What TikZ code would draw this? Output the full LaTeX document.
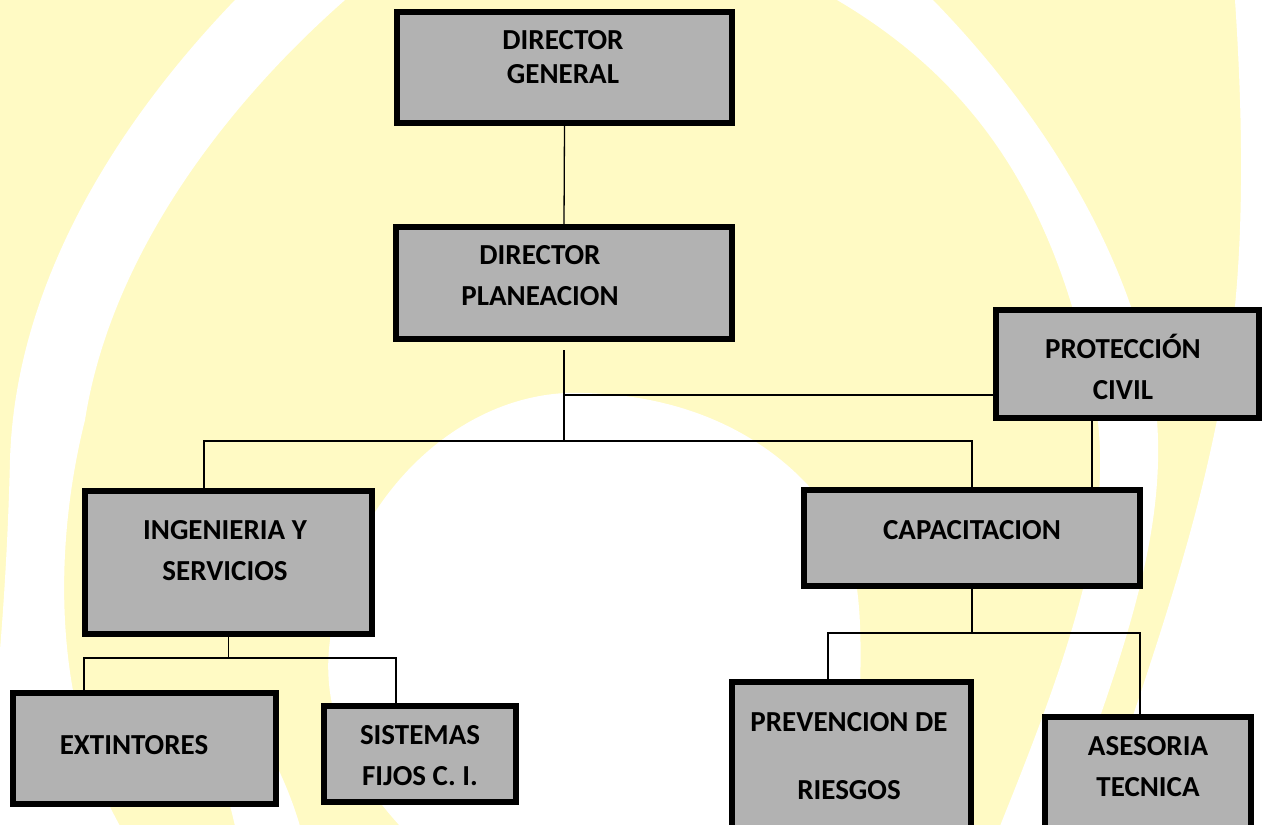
\documentclass[tikz,border=0pt]{standalone}
\usepackage{fontspec}
\setmainfont{Carlito}
\definecolor{paleyellow}{RGB}{255,250,196}
\definecolor{boxgray}{RGB}{178,178,178}
\tikzset{
  unitbox/.style={draw=black, fill=boxgray, line width=6pt, inner sep=0pt},
  unittext/.style={align=center, inner sep=0pt, font=\bfseries\fontsize{29}{41}\selectfont},
  link/.style={draw=black, line width=1.3pt}
}
\begin{document}
\begin{tikzpicture}[x=1pt,y=-1pt]
    \useasboundingbox (0,0) rectangle (1262,825);
    \clip (0,0) rectangle (1262,825);

    % background swirl
    \fill[paleyellow] (0,0) rectangle (1262,825);
    \fill[white] (235,0) .. controls (110,130) and (15,290) .. (10,460) .. controls (8,540) and (4,600) .. (0,650) -- (0,826) -- (120,826) .. controls (50,700) and (55,540) .. (85,420) .. controls (110,260) and (220,110) .. (345,0) -- cycle;
    \fill[white] (235,826) .. controls (220,760) and (200,720) .. (170,690) -- (230,690) .. controls (260,730) and (285,775) .. (300,826) -- cycle;
    \fill[white] (400,826) .. controls (340,760) and (322,700) .. (330,640) .. controls (340,520) and (440,400) .. (565,393) .. controls (700,390) and (790,450) .. (835,520) .. controls (860,560) and (862,620) .. (860,690) .. controls (858,740) and (845,790) .. (835,826) -- cycle;
    \fill[white] (837,0) .. controls (990,90) and (1060,220) .. (1095,400) .. controls (1115,520) and (1075,640) .. (1000,826) -- (1060,826) .. controls (1130,640) and (1170,520) .. (1155,400) .. controls (1130,250) and (1040,110) .. (933,0) -- cycle;
    \fill[white] (1235,0) .. controls (1245,150) and (1245,300) .. (1217,420) .. controls (1195,530) and (1160,640) .. (1095,826) -- (1262,826) -- (1262,0) -- cycle;

    % insert units
    \node[unitbox, minimum width=335pt, minimum height=111pt] (dg) at (564.5,67.5) {};
    \node[unitbox, minimum width=336pt, minimum height=112pt] (dp) at (564,283) {};
    \node[unitbox, minimum width=263pt, minimum height=108pt] (pc) at (1127.5,364) {};
    \node[unitbox, minimum width=287pt, minimum height=143pt] (is) at (228.5,562.5) {};
    \node[unitbox, minimum width=336pt, minimum height=96pt] (cap) at (972,538) {};
    \node[unitbox, minimum width=263pt, minimum height=111pt] (ext) at (144.5,748.5) {};
    \node[unitbox, minimum width=192pt, minimum height=96pt] (sis) at (420,754) {};
    \node[unitbox, minimum width=239pt, minimum height=150pt] (prev) at (851.5,757) {};
    \node[unitbox, minimum width=206pt, minimum height=115pt] (ase) at (1148,774.5) {};

    % insert names
    \node[unittext, font=\bfseries\fontsize{29}{34}\selectfont] (dgname) at (563,57.5) {DIRECTOR\\GENERAL};
    \node[unittext] (dpname) at (540,276) {DIRECTOR\\PLANEACION};
    \node[unittext] (pcname) at (1123,367) {PROTECCIÓN\\CIVIL};
    \node[unittext] (isname) at (225,550.5) {INGENIERIA Y\\SERVICIOS};
    \node[unittext] (capname) at (972,530) {CAPACITACION};
    \node[unittext] (extname) at (134,745) {EXTINTORES};
    \node[unittext] (sisname) at (420,756) {SISTEMAS\\FIJOS C. I.};
    \node[unittext, font=\bfseries\fontsize{29}{68}\selectfont] (prevname) at (849,756) {PREVENCION DE\\RIESGOS};
    \node[unittext] (asename) at (1148,766.5) {ASESORIA\\TECNICA};

    % insert links
    \coordinate (hub) at (564,395);
    \coordinate (split) at (564,441);
    \coordinate (isfork) at (228.5,658);
    \coordinate (capfork) at (972,633);
    \draw[link] (dg.south) -- (dp.north);
    \draw[link, shorten <=8pt] (dp.south) -- (split);
    \draw[link] (hub) -- (hub -| pc.west);
    \draw[link] (split) -| ([xshift=-24.5pt]is.north);
    \draw[link] (split) -| (cap.north);
    \draw[link] ([xshift=-35.5pt]pc.south) -- ([xshift=-35.5pt]pc.south |- cap.north);
    \draw[link] (is.south) -- (isfork);
    \draw[link] (isfork) -| ([xshift=-60.5pt]ext.north);
    \draw[link] (isfork) -| ([xshift=-24pt]sis.north);
    \draw[link] (cap.south) -- (capfork);
    \draw[link] (capfork) -| ([xshift=-23.5pt]prev.north);
    \draw[link] (capfork) -| ([xshift=-8pt]ase.north);
\end{tikzpicture}
\end{document}
